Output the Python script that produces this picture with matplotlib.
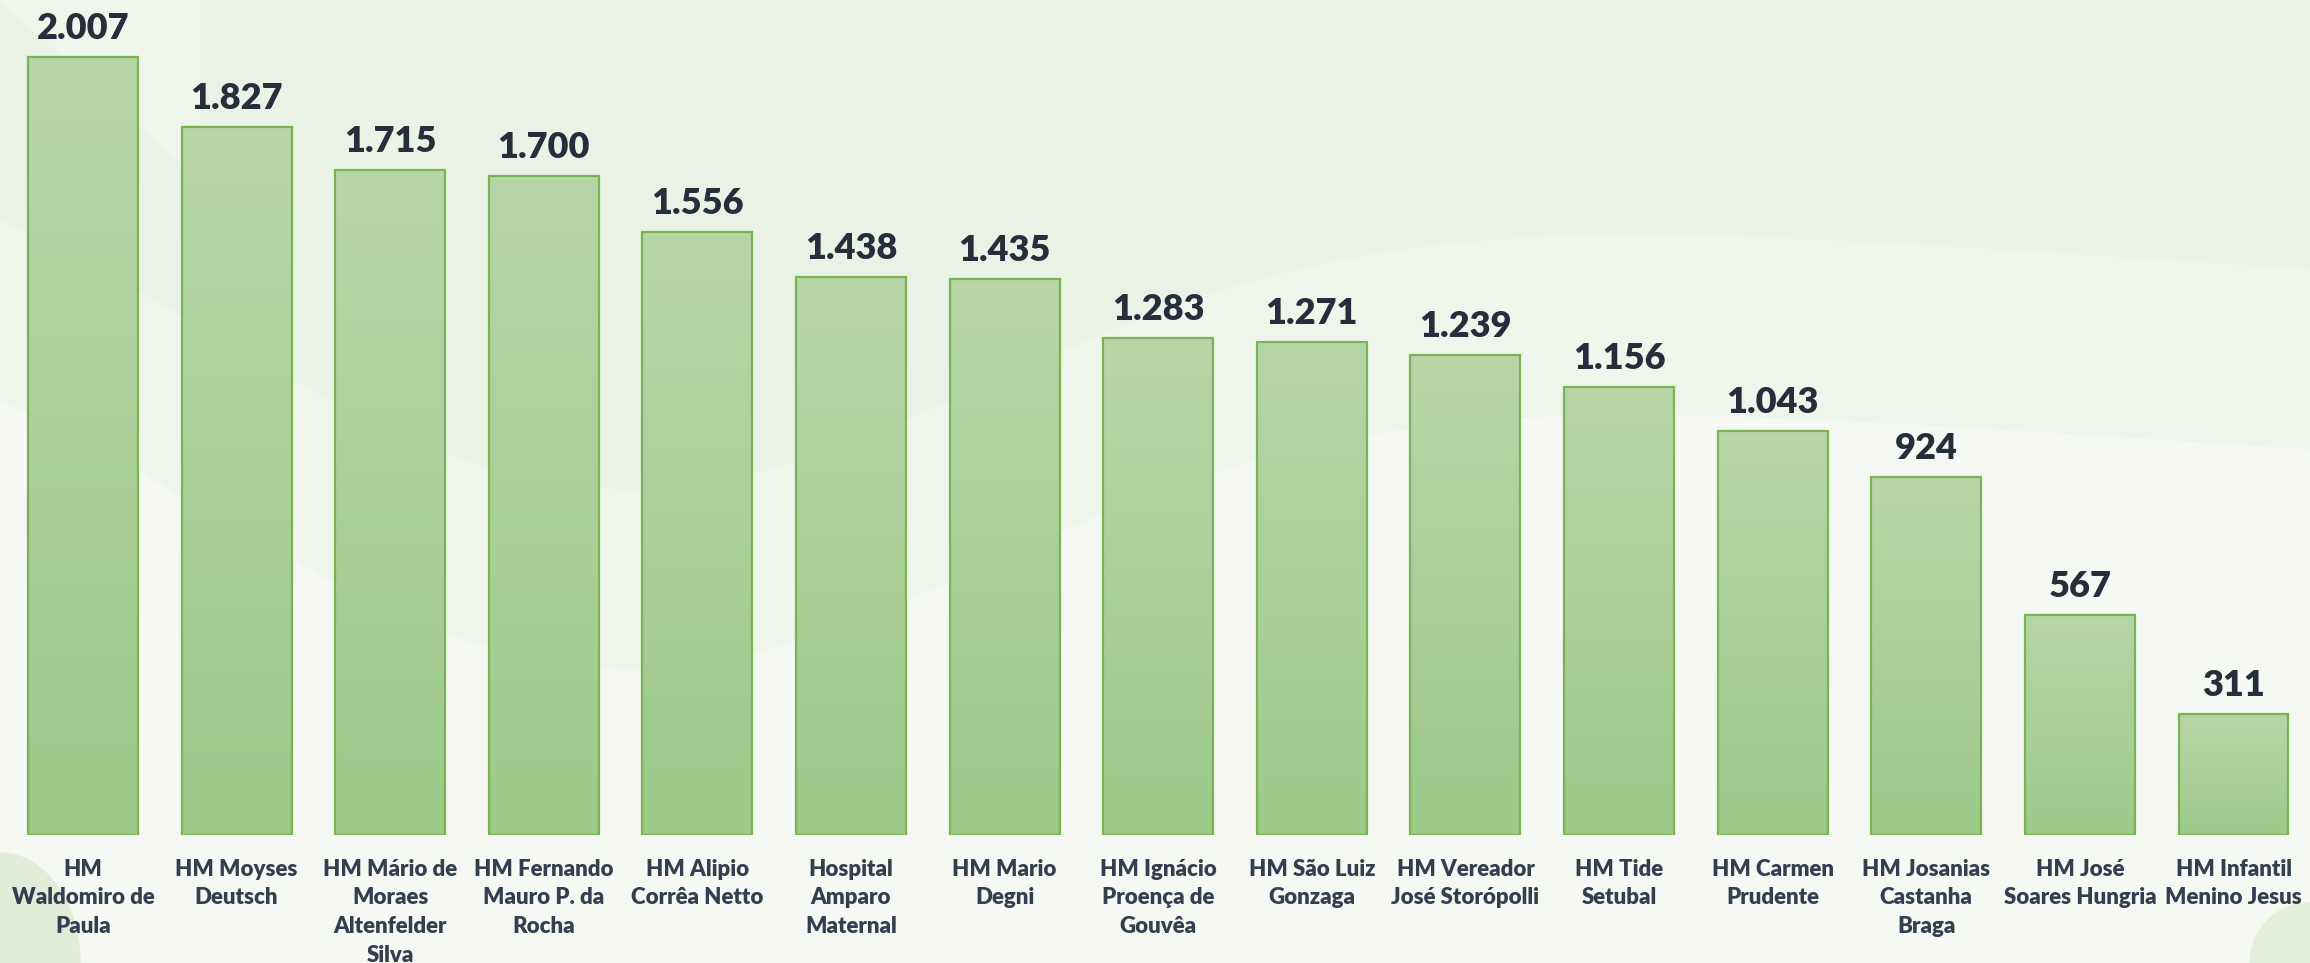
import numpy as np
import matplotlib.pyplot as plt
from matplotlib.colors import LinearSegmentedColormap

# data
hospitais = ['HM\nWaldomiro de\nPaula', 'HM Moyses\nDeutsch', 'HM Mário de\nMoraes\nAltenfelder\nSilva',
             'HM Fernando\nMauro P. da\nRocha', 'HM Alipio\nCorrêa Netto', 'Hospital\nAmparo\nMaternal',
             'HM Mario\nDegni', 'HM Ignácio\nProença de\nGouvêa', 'HM São Luiz\nGonzaga',
             'HM Vereador\nJosé Storópolli', 'HM Tide\nSetubal', 'HM Carmen\nPrudente',
             'HM Josanias\nCastanha\nBraga', 'HM José\nSoares Hungria', 'HM Infantil\nMenino Jesus']
valores = [2007, 1827, 1715, 1700, 1556, 1438, 1435, 1283, 1271, 1239, 1156, 1043, 924, 567, 311]
rotulos = ['2.007', '1.827', '1.715', '1.700', '1.556', '1.438', '1.435', '1.283', '1.271',
           '1.239', '1.156', '1.043', '924', '567', '311']

plt.rcParams['font.family'] = ['Lato', 'DejaVu Sans']
W, H = 2310, 963
fig = plt.figure(figsize=(W / 100, H / 100), dpi=100)

# background decoration (pixel coords)
bg = fig.add_axes([0, 0, 1, 1])
bg.set_xlim(0, W)
bg.set_ylim(H, 0)
bg.axis('off')
bg.add_patch(plt.Rectangle((0, 0), W, H, color='#eaf2e6', zorder=0))
xs = np.linspace(0, W, 400)
wave = 120 + 330 * np.exp(-((xs - 600) / 550) ** 2) + 150 * (xs / W)
bg.fill_between(xs, wave, H, color='#f0f5ec', zorder=1)
wave2 = wave + 180
bg.fill_between(xs, wave2, H, color='#f6f9f3', zorder=2)
top_left = np.linspace(0, 200, 50)
bg.fill_between(top_left, 0, top_left * 0.9, color='#eff5eb', zorder=1)
t = np.linspace(0, np.pi / 2, 60)
bg.fill(np.concatenate([[0], 80 * np.sin(t)]), np.concatenate([[H], H - 110 + 110 * (1 - np.cos(t))]),
        color='#e2edd9', zorder=3)
bg.fill(np.concatenate([[W], W - 60 * np.cos(t)]), np.concatenate([[H], H - 60 * np.sin(t)]),
        color='#e3eedb', zorder=3)

# main chart
ax = fig.add_axes([0, 128 / H, 1, 835 / H])
ax.patch.set_alpha(0)
x = np.arange(len(valores))
bars = ax.bar(x, valores, width=0.716, facecolor='none', edgecolor='#78b552', linewidth=1.6, zorder=3)

cmap = LinearSegmentedColormap.from_list('g', ['#9ec98a', '#b7d6a8'])
grad = np.linspace(0, 1, 256).reshape(-1, 1)
for b in bars:
    im = ax.imshow(grad, extent=[b.get_x(), b.get_x() + b.get_width(), 0, b.get_height()],
                   origin='lower', cmap=cmap, aspect='auto', zorder=2)
    im.set_clip_path(b)

for xi, v, r in zip(x, valores, rotulos):
    ax.annotate(r, (xi, v), xytext=(0, 13), textcoords='offset points', ha='center', va='baseline',
                fontsize=26, fontweight='heavy', color='#262d3b')

ax.set_xlim(-0.540, 14.498)
ax.set_ylim(0, 835 / 0.3877)
ax.set_xticks(x)
ax.set_xticklabels(hospitais, fontsize=16, fontweight='heavy', color='#333e50', linespacing=1.45)
ax.tick_params(axis='x', length=0, pad=17)
ax.set_yticks([])
for s in ax.spines.values():
    s.set_visible(False)

fig.savefig('out.png', dpi=100)
